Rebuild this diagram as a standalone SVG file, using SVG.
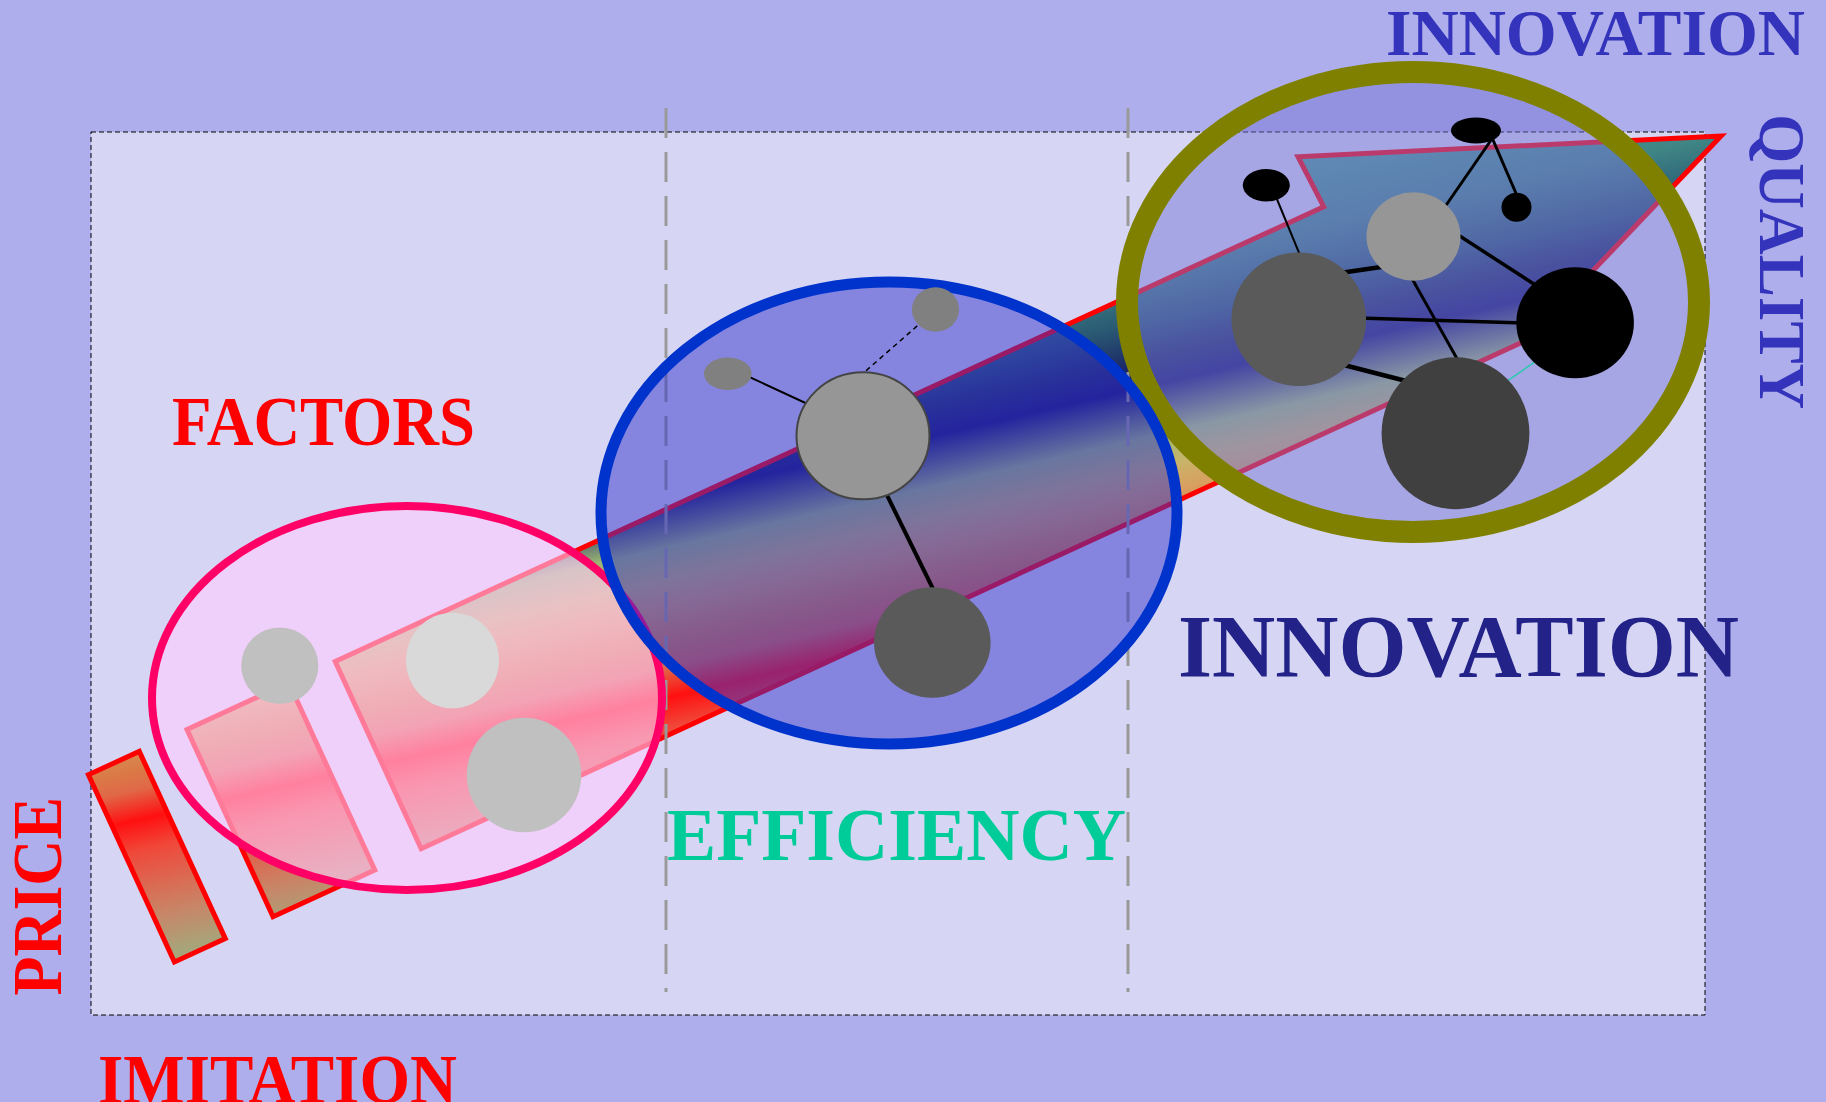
<svg xmlns="http://www.w3.org/2000/svg" width="1826" height="1102" viewBox="0 0 1826 1102">
<defs>
<linearGradient id="band" gradientUnits="userSpaceOnUse" x1="0" y1="451.7" x2="121.5" y2="977.7">
<stop offset="0.01" stop-color="#4aa095"/>
<stop offset="0.148" stop-color="#3f8585"/>
<stop offset="0.241" stop-color="#2a5a74"/>
<stop offset="0.306" stop-color="#1e3068"/>
<stop offset="0.361" stop-color="#141470"/>
<stop offset="0.452" stop-color="#9db974"/>
<stop offset="0.509" stop-color="#c8b46a"/>
<stop offset="0.556" stop-color="#d8a060"/>
<stop offset="0.630" stop-color="#da7a46"/>
<stop offset="0.667" stop-color="#e06848"/>
<stop offset="0.722" stop-color="#ff1010"/>
<stop offset="0.778" stop-color="#f0483a"/>
<stop offset="0.898" stop-color="#c98466"/>
<stop offset="0.972" stop-color="#a8a47a"/>
<stop offset="1" stop-color="#a4a67c"/>
</linearGradient>
<style>
.txt{font-family:"Liberation Serif","Times New Roman",serif;font-weight:bold}
.piece{fill:url(#band);stroke:#ff0000;stroke-width:5;stroke-linejoin:miter;stroke-miterlimit:10}
.vdash{stroke:#999999;stroke-width:3;stroke-dasharray:30 14;fill:none}
.ln{stroke:#000000;fill:none}
</style>
</defs>
<rect x="0" y="0" width="1826" height="1102" fill="#aeaeec"/>
<rect id="frame" x="91" y="132" width="1614" height="883" fill="#d6d6f4" stroke="#000000" stroke-width="1" stroke-dasharray="5 3"/>
<g id="arrow">
<polygon class="piece" points="88.4,774.8 139.3,751.4 225.3,938.6 174.4,962"/>
<polygon class="piece" points="187,729.5 288.8,682.8 374.8,870 273,916.7"/>
<polygon class="piece" points="335.2,661.5 1323.7,206.7 1298,156.7 1721,136 1527,340 421.2,848.7"/>
</g>
<g id="phases">
<line class="vdash" x1="666" y1="108" x2="666" y2="992"/>
<line class="vdash" x1="1128" y1="108" x2="1128" y2="992"/>
</g>
<g id="imitation-cluster">
<ellipse cx="407" cy="698" rx="255" ry="192" fill="#ffccff" fill-opacity="0.6" stroke="#ff0066" stroke-width="8"/>
<ellipse cx="279.8" cy="665.7" rx="38.6" ry="38.3" fill="#c0c0c0"/>
<ellipse cx="452.5" cy="660.5" rx="46.5" ry="47.8" fill="#d9d9d9"/>
<ellipse cx="524" cy="775" rx="57.3" ry="57.3" fill="#c0c0c0"/>
</g>
<g id="innovation-cluster">
<ellipse cx="1413" cy="302" rx="286" ry="230" fill="#7676d6" fill-opacity="0.5" stroke="#808000" stroke-width="22"/>
</g>
<g id="efficiency-cluster">
<ellipse cx="889" cy="513" rx="288" ry="231" fill="#3333cc" fill-opacity="0.5" stroke="#0033cc" stroke-width="11"/>
</g>
<g id="connectors">
<line class="ln" stroke-width="2" x1="730" y1="368" x2="812" y2="406"/>
<line class="ln" stroke-width="1.5" stroke-dasharray="5 4" x1="924" y1="320" x2="860" y2="376"/>
<line class="ln" stroke-width="4" x1="882" y1="485" x2="936" y2="595"/>
<line class="ln" stroke-width="3" x1="1496" y1="133" x2="1440" y2="214"/>
<line class="ln" stroke-width="3" x1="1490" y1="133" x2="1518" y2="198"/>
<line class="ln" stroke-width="2" x1="1274" y1="192" x2="1302" y2="260"/>
<line class="ln" stroke-width="4.5" x1="1340" y1="273" x2="1388" y2="266"/>
<line class="ln" stroke-width="3.5" x1="1452" y1="231" x2="1540" y2="288"/>
<line class="ln" stroke-width="3.5" x1="1358" y1="318" x2="1524" y2="323"/>
<line class="ln" stroke-width="3" x1="1410" y1="275" x2="1460" y2="364"/>
<line class="ln" stroke-width="4.5" x1="1340" y1="364" x2="1410" y2="382"/>
<line stroke="#22ccaa" stroke-width="1.5" x1="1500" y1="386" x2="1542" y2="357"/>
</g>
<g id="node-e1"><ellipse cx="863" cy="435.8" rx="66.5" ry="63.5" fill="#969696" stroke="#444444" stroke-width="2"/></g>
<g id="node-e2"><ellipse cx="727.8" cy="373.7" rx="23.8" ry="16.3" fill="#808080"/></g>
<g id="node-e3"><ellipse cx="935.5" cy="309.5" rx="23.6" ry="22.2" fill="#808080"/></g>
<g id="node-e4"><ellipse cx="932.3" cy="642.5" rx="58.3" ry="55.2" fill="#5a5a5a"/></g>
<g id="node-i1"><ellipse cx="1476" cy="130.5" rx="25" ry="13" fill="#000000"/></g>
<g id="node-i2"><ellipse cx="1266.3" cy="185.3" rx="23.5" ry="16.3" fill="#000000"/></g>
<g id="node-i3"><ellipse cx="1516.5" cy="207.2" rx="15" ry="14.5" fill="#000000"/></g>
<g id="node-i4"><ellipse cx="1413.5" cy="236.5" rx="47" ry="44.2" fill="#969696"/></g>
<g id="node-i5"><ellipse cx="1298.8" cy="319.2" rx="67.3" ry="66.8" fill="#5a5a5a"/></g>
<g id="node-i6"><ellipse cx="1575.1" cy="322.8" rx="58.8" ry="55.5" fill="#000000"/></g>
<g id="node-i7"><ellipse cx="1455.5" cy="433.3" rx="73.9" ry="76" fill="#404040"/></g>
<g id="labels">
<text class="txt" x="172" y="444.5" font-size="69" fill="#ff0000" textLength="303" lengthAdjust="spacingAndGlyphs">FACTORS</text>
<text class="txt" x="98" y="1103" font-size="69" fill="#ff0000" textLength="359" lengthAdjust="spacingAndGlyphs">IMITATION</text>
<text class="txt" transform="translate(61.2,995.5) rotate(-90)" x="0" y="0" font-size="70" fill="#ff0000" textLength="198.5" lengthAdjust="spacingAndGlyphs">PRICE</text>
<text class="txt" x="667" y="859.5" font-size="75" fill="#00cc99" textLength="459" lengthAdjust="spacingAndGlyphs">EFFICIENCY</text>
<text class="txt" x="1178" y="675.7" font-size="89" fill="#222288" textLength="561" lengthAdjust="spacingAndGlyphs">INNOVATION</text>
<text class="txt" x="1386" y="54.5" font-size="66.5" fill="#3333bb" textLength="419" lengthAdjust="spacingAndGlyphs">INNOVATION</text>
<text class="txt" transform="translate(1760.4,114.2) rotate(90)" x="0" y="0" font-size="66" fill="#3333bb" textLength="295" lengthAdjust="spacingAndGlyphs">QUALITY</text>
</g>
</svg>
